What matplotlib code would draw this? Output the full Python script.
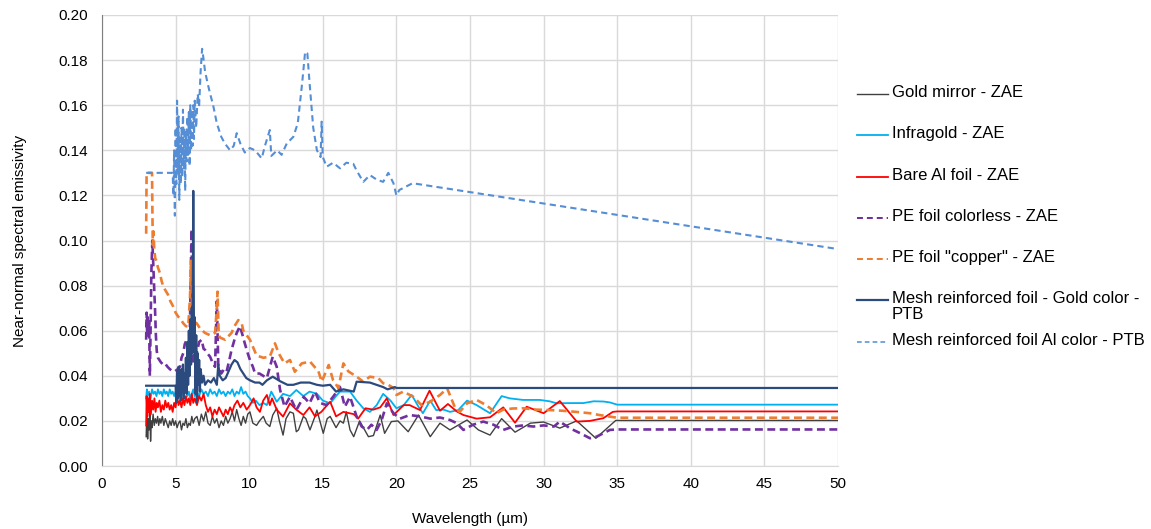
import matplotlib
matplotlib.use("Agg")
import matplotlib.pyplot as plt
from matplotlib.lines import Line2D

plt.rcParams['font.family'] = ['Liberation Sans', 'DejaVu Sans']

# ---- data ----
gold_x = [3.00, 3.05, 3.10, 3.15, 3.20, 3.25, 3.30, 3.35, 3.40, 3.47,
          3.55, 3.62, 3.70, 3.78, 3.85, 3.93, 4.00, 4.10, 4.20, 4.30,
          4.40, 4.50, 4.60, 4.70, 4.80, 4.90, 5.00, 5.10, 5.20, 5.30,
          5.40, 5.50, 5.60, 5.70, 5.80, 5.90, 6.00, 6.10, 6.20, 6.30,
          6.45, 6.60, 6.75, 6.90, 7.05, 7.20, 7.35, 7.50, 7.65, 7.80,
          7.95, 8.10, 8.25, 8.40, 8.55, 8.70, 8.85, 9.00, 9.15, 9.30,
          9.45, 9.60, 9.75, 9.90, 10.05, 10.25, 10.50, 10.70, 10.96, 11.15,
          11.40, 11.60, 11.87, 12.05, 12.30, 12.50, 12.77, 13.00, 13.20, 13.35,
          13.68, 13.85, 14.13, 14.47, 14.60, 15.03, 15.30, 15.50, 15.90, 16.17,
          16.40, 16.60, 16.85, 17.10, 17.50, 18.10, 18.44, 18.90, 19.20, 19.66,
          20.10, 20.80, 21.50, 22.30, 22.96, 23.64, 24.80, 25.57, 26.36, 27.15,
          28.06, 29.10, 30.00, 31.10, 32.25, 33.55, 34.90, 50.00]
gold_y = [0.013, 0.024, 0.012, 0.021, 0.016, 0.025, 0.011, 0.020, 0.017, 0.023,
          0.018, 0.021, 0.019, 0.022, 0.018, 0.021, 0.019, 0.022, 0.018, 0.021,
          0.019, 0.017, 0.020, 0.018, 0.021, 0.018, 0.020, 0.017, 0.019, 0.020,
          0.016, 0.019, 0.018, 0.021, 0.017, 0.019, 0.018, 0.022, 0.019, 0.021,
          0.022, 0.018, 0.023, 0.020, 0.024, 0.019, 0.018, 0.022, 0.019, 0.021,
          0.017, 0.020, 0.018, 0.022, 0.019, 0.021, 0.024, 0.020, 0.025, 0.021,
          0.018, 0.022, 0.019, 0.023, 0.024, 0.019, 0.018, 0.020, 0.022, 0.019,
          0.0175, 0.0226, 0.0256, 0.020, 0.0137, 0.021, 0.024, 0.0234, 0.0152, 0.016,
          0.022, 0.021, 0.016, 0.022, 0.0248, 0.0145, 0.021, 0.022, 0.017, 0.020,
          0.019, 0.024, 0.016, 0.013, 0.020, 0.013, 0.0135, 0.0226, 0.0145, 0.0197,
          0.020, 0.0152, 0.0226, 0.013, 0.019, 0.016, 0.0204, 0.016, 0.0137, 0.021,
          0.015, 0.019, 0.0195, 0.0168, 0.020, 0.0123, 0.0202, 0.0202]

infra_x = [3.00, 3.05, 3.10, 3.20, 3.30, 3.40, 3.50, 3.60, 3.70, 3.80,
           3.90, 4.00, 4.10, 4.20, 4.30, 4.40, 4.50, 4.60, 4.70, 4.80,
           4.90, 5.00, 5.10, 5.20, 5.30, 5.40, 5.50, 5.60, 5.70, 5.80,
           5.90, 6.00, 6.10, 6.20, 6.30, 6.45, 6.60, 6.75, 6.90, 7.05,
           7.20, 7.35, 7.50, 7.65, 7.80, 7.95, 8.10, 8.25, 8.40, 8.55,
           8.70, 8.85, 9.00, 9.15, 9.30, 9.45, 9.60, 9.75, 9.90, 10.05,
           10.25, 10.45, 10.70, 10.95, 11.20, 11.50, 11.87, 12.30, 12.77, 13.20,
           13.68, 14.10, 14.60, 15.00, 15.50, 15.90, 16.17, 16.85, 17.30, 17.75,
           18.20, 18.66, 19.10, 19.60, 20.00, 20.50, 21.04, 21.50, 21.80, 22.30,
           22.70, 23.20, 23.64, 24.20, 24.80, 25.45, 26.36, 27.15, 27.70, 28.60,
           29.75, 30.40, 30.90, 31.80, 32.70, 33.40, 34.06, 34.50, 35.00, 50.00]
infra_y = [0.030, 0.034, 0.031, 0.033, 0.030, 0.034, 0.032, 0.033, 0.031, 0.034,
           0.032, 0.033, 0.031, 0.034, 0.032, 0.033, 0.031, 0.034, 0.032, 0.033,
           0.031, 0.033, 0.030, 0.032, 0.034, 0.031, 0.033, 0.032, 0.034, 0.031,
           0.033, 0.030, 0.032, 0.034, 0.031, 0.033, 0.031, 0.034, 0.032, 0.033,
           0.031, 0.034, 0.032, 0.033, 0.031, 0.034, 0.032, 0.033, 0.031, 0.033,
           0.032, 0.034, 0.031, 0.033, 0.032, 0.035, 0.032, 0.033, 0.031, 0.030,
           0.028, 0.029, 0.027, 0.028, 0.027, 0.033, 0.0285, 0.032, 0.031, 0.0337,
           0.031, 0.033, 0.032, 0.029, 0.0278, 0.031, 0.033, 0.033, 0.029, 0.0256,
           0.024, 0.027, 0.032, 0.029, 0.0256, 0.027, 0.0315, 0.0263, 0.0234, 0.029,
           0.0248, 0.025, 0.024, 0.0248, 0.029, 0.027, 0.0234, 0.031, 0.030, 0.0293,
           0.0293, 0.0287, 0.0278, 0.0279, 0.0279, 0.0287, 0.0286, 0.0282, 0.0272, 0.0272]

al_x = [3.00, 3.03, 3.08, 3.13, 3.18, 3.25, 3.32, 3.40, 3.48, 3.56,
        3.64, 3.72, 3.80, 3.90, 4.00, 4.10, 4.20, 4.30, 4.40, 4.50,
        4.60, 4.70, 4.80, 4.90, 5.00, 5.10, 5.20, 5.30, 5.40, 5.50,
        5.60, 5.70, 5.80, 5.90, 6.00, 6.10, 6.20, 6.30, 6.45, 6.60,
        6.75, 6.90, 7.05, 7.20, 7.35, 7.50, 7.65, 7.80, 7.95, 8.10,
        8.25, 8.40, 8.55, 8.70, 8.85, 9.00, 9.20, 9.40, 9.60, 9.83,
        10.05, 10.30, 10.50, 10.73, 10.95, 11.20, 11.40, 11.55, 11.87, 12.30,
        12.77, 13.20, 13.68, 14.10, 14.47, 14.90, 15.50, 15.90, 16.40, 17.10,
        17.40, 17.90, 18.44, 18.90, 19.35, 19.80, 20.50, 20.90, 21.60, 22.25,
        22.96, 23.50, 24.10, 24.55, 25.45, 26.36, 27.26, 28.06, 28.85, 30.00,
        31.10, 32.25, 33.15, 34.06, 34.70, 35.00, 50.00]
al_y = [0.018, 0.031, 0.022, 0.030, 0.024, 0.032, 0.023, 0.029, 0.025, 0.030,
        0.024, 0.028, 0.026, 0.029, 0.024, 0.027, 0.025, 0.029, 0.026, 0.028,
        0.025, 0.027, 0.024, 0.028, 0.026, 0.031, 0.027, 0.029, 0.026, 0.030,
        0.027, 0.031, 0.028, 0.030, 0.027, 0.032, 0.028, 0.030, 0.027, 0.031,
        0.029, 0.032, 0.027, 0.024, 0.026, 0.022, 0.025, 0.023, 0.026, 0.024,
        0.022, 0.025, 0.023, 0.026, 0.024, 0.027, 0.029, 0.026, 0.028, 0.025,
        0.027, 0.030, 0.026, 0.024, 0.029, 0.0315, 0.027, 0.030, 0.025, 0.0219,
        0.0278, 0.025, 0.0226, 0.026, 0.022, 0.024, 0.0285, 0.022, 0.024, 0.023,
        0.021, 0.0256, 0.025, 0.026, 0.030, 0.0226, 0.027, 0.027, 0.0248, 0.0334,
        0.0245, 0.0275, 0.0242, 0.0226, 0.021, 0.0216, 0.026, 0.0192, 0.0263, 0.0234,
        0.0288, 0.0197, 0.020, 0.0212, 0.024, 0.0242, 0.0242]

pe_clear_x = [3.00, 3.03, 3.07, 3.10, 3.15, 3.20, 3.25, 3.30, 3.35, 3.42,
              3.48, 3.55, 3.60, 3.66, 3.72, 3.80, 3.90, 4.00, 4.15, 4.28,
              4.45, 4.60, 4.80, 4.96, 5.15, 5.30, 5.40, 5.52, 5.62, 5.75,
              5.85, 5.95, 6.02, 6.08, 6.14, 6.20, 6.30, 6.43, 6.60, 6.77,
              6.90, 7.00, 7.15, 7.34, 7.50, 7.68, 7.80, 7.90, 8.10, 8.30,
              8.47, 8.65, 8.80, 9.00, 9.15, 9.37, 9.55, 9.70, 9.90, 10.05,
              10.25, 10.40, 10.70, 11.20, 11.60, 11.87, 12.10, 12.40, 12.77, 13.20,
              13.70, 14.10, 14.47, 14.80, 15.26, 15.70, 16.17, 16.50, 16.85, 17.30,
              17.64, 18.00, 18.30, 18.66, 19.00, 19.35, 19.80, 20.25, 20.90, 21.60,
              22.30, 22.96, 23.64, 24.10, 24.55, 25.20, 25.90, 26.60, 27.26, 27.95,
              28.60, 29.30, 30.00, 30.70, 31.10, 31.80, 32.50, 33.15, 33.60, 34.50,
              35.00, 50.00]
pe_clear_y = [0.056, 0.068, 0.058, 0.066, 0.060, 0.064, 0.040, 0.060, 0.085, 0.100,
              0.090, 0.078, 0.070, 0.058, 0.051, 0.048, 0.047, 0.046, 0.045, 0.0455,
              0.044, 0.043, 0.042, 0.042, 0.043, 0.044, 0.048, 0.050, 0.054, 0.056,
              0.050, 0.053, 0.080, 0.105, 0.070, 0.045, 0.052, 0.050, 0.055, 0.056,
              0.052, 0.0515, 0.050, 0.0485, 0.046, 0.044, 0.073, 0.045, 0.041, 0.043,
              0.042, 0.047, 0.0515, 0.056, 0.059, 0.062, 0.058, 0.0544, 0.050, 0.047,
              0.044, 0.041, 0.041, 0.039, 0.0485, 0.044, 0.0337, 0.0263, 0.0307, 0.0248,
              0.0307, 0.0278, 0.033, 0.028, 0.027, 0.0307, 0.035, 0.0263, 0.0307, 0.0219,
              0.0175, 0.016, 0.0183, 0.016, 0.0204, 0.0278, 0.0234, 0.021, 0.0226, 0.022,
              0.021, 0.0215, 0.0204, 0.019, 0.016, 0.0183, 0.0197, 0.0183, 0.016, 0.0175,
              0.018, 0.0175, 0.018, 0.0175, 0.0197, 0.0167, 0.0145, 0.0123, 0.013, 0.016,
              0.0162, 0.0162]

pe_copper_x = [3.00, 3.03, 3.40, 3.42, 3.45, 3.50, 3.55, 3.62, 3.70, 3.80,
               3.94, 4.05, 4.17, 4.30, 4.50, 4.65, 4.84, 5.00, 5.18, 5.35,
               5.52, 5.70, 5.86, 5.98, 6.05, 6.12, 6.25, 6.43, 6.66, 7.00,
               7.34, 7.68, 7.80, 7.85, 7.92, 8.00, 8.36, 8.80, 9.00, 9.26,
               9.50, 9.60, 10.05, 10.50, 10.96, 11.40, 11.75, 12.00, 12.40, 12.77,
               13.10, 13.57, 14.13, 14.70, 14.93, 15.40, 15.70, 16.06, 16.40, 16.73,
               17.30, 17.75, 18.20, 18.77, 19.10, 19.45, 19.80, 20.00, 20.47, 21.15,
               21.70, 22.30, 22.96, 23.45, 24.00, 24.30, 24.80, 25.45, 26.10, 26.80,
               27.26, 27.90, 28.60, 29.50, 30.40, 31.30, 32.20, 33.15, 33.80, 34.50,
               35.00, 50.00]
pe_copper_y = [0.103, 0.130, 0.130, 0.115, 0.098, 0.104, 0.096, 0.092, 0.091, 0.088,
               0.0855, 0.082, 0.0795, 0.078, 0.0758, 0.073, 0.0707, 0.068, 0.0662, 0.065,
               0.0633, 0.062, 0.0618, 0.075, 0.091, 0.070, 0.064, 0.0633, 0.061, 0.059,
               0.058, 0.059, 0.070, 0.0773, 0.060, 0.057, 0.056, 0.059, 0.062, 0.0647,
               0.063, 0.060, 0.056, 0.049, 0.048, 0.0485, 0.0544, 0.050, 0.0455, 0.047,
               0.0418, 0.0455, 0.0463, 0.042, 0.0374, 0.0448, 0.038, 0.0346, 0.0455, 0.042,
               0.0396, 0.0374, 0.0396, 0.039, 0.0367, 0.036, 0.0346, 0.0315, 0.033, 0.0307,
               0.027, 0.0285, 0.0315, 0.0344, 0.0256, 0.024, 0.0278, 0.0293, 0.027, 0.0234,
               0.025, 0.0255, 0.0256, 0.025, 0.0248, 0.0245, 0.024, 0.0234, 0.0226, 0.0219,
               0.0214, 0.0214]

mesh_gold_x = [3.00, 5.00, 5.05, 5.10, 5.15, 5.20, 5.25, 5.30, 5.35, 5.40,
               5.45, 5.50, 5.55, 5.60, 5.65, 5.70, 5.75, 5.80, 5.85, 5.90,
               5.95, 6.00, 6.05, 6.10, 6.15, 6.20, 6.25, 6.30, 6.35, 6.40,
               6.45, 6.50, 6.55, 6.60, 6.65, 6.70, 6.80, 6.90, 7.00, 7.20,
               7.40, 7.60, 7.80, 7.90, 8.00, 8.20, 8.40, 8.60, 8.80, 9.00,
               9.20, 9.40, 9.60, 9.80, 10.05, 10.40, 10.70, 10.90, 11.20, 11.60,
               12.10, 12.60, 13.00, 13.50, 14.10, 14.60, 15.00, 15.50, 15.90, 16.40,
               17.10, 17.30, 18.20, 19.10, 19.40, 19.90, 20.00, 50.00]
mesh_gold_y = [0.0356, 0.0356, 0.028, 0.042, 0.030, 0.044, 0.031, 0.040, 0.029, 0.043,
               0.033, 0.045, 0.030, 0.041, 0.034, 0.048, 0.032, 0.055, 0.036, 0.060,
               0.040, 0.065, 0.045, 0.070, 0.050, 0.122, 0.055, 0.066, 0.032, 0.058,
               0.028, 0.050, 0.036, 0.047, 0.033, 0.043, 0.037, 0.040, 0.036, 0.038,
               0.037, 0.039, 0.036, 0.045, 0.040, 0.038, 0.039, 0.042, 0.045, 0.047,
               0.046, 0.043, 0.041, 0.039, 0.038, 0.037, 0.037, 0.036, 0.038, 0.0396,
               0.0376, 0.036, 0.036, 0.037, 0.037, 0.036, 0.0356, 0.036, 0.033, 0.034,
               0.033, 0.0374, 0.037, 0.035, 0.034, 0.035, 0.0346, 0.0346]

mesh_al_x = [3.00, 4.80, 4.85, 4.90, 4.95, 5.00, 5.05, 5.10, 5.15, 5.20,
             5.25, 5.30, 5.35, 5.40, 5.45, 5.50, 5.55, 5.60, 5.65, 5.70,
             5.75, 5.80, 5.85, 5.90, 5.95, 6.00, 6.05, 6.10, 6.15, 6.20,
             6.25, 6.30, 6.40, 6.50, 6.60, 6.70, 6.80, 6.85, 7.00, 7.20,
             7.35, 7.55, 7.80, 8.10, 8.35, 8.70, 8.95, 9.15, 9.40, 9.70,
             10.05, 10.40, 10.85, 11.07, 11.40, 11.50, 11.90, 12.20, 12.55, 13.00,
             13.30, 13.60, 13.80, 13.95, 14.10, 14.35, 14.60, 14.85, 14.92, 15.00,
             15.26, 15.70, 16.17, 16.60, 17.07, 17.30, 17.75, 18.20, 18.66, 19.10,
             19.45, 19.80, 20.00, 20.20, 21.10, 50.00]
mesh_al_y = [0.130, 0.130, 0.120, 0.140, 0.111, 0.150, 0.125, 0.162, 0.130, 0.155,
             0.118, 0.145, 0.125, 0.150, 0.128, 0.158, 0.132, 0.150, 0.122, 0.148,
             0.135, 0.155, 0.138, 0.157, 0.133, 0.160, 0.140, 0.158, 0.142, 0.160,
             0.145, 0.162, 0.150, 0.165, 0.160, 0.175, 0.185, 0.183, 0.175, 0.169,
             0.165, 0.160, 0.152, 0.146, 0.143, 0.140, 0.142, 0.1476, 0.143, 0.139,
             0.141, 0.140, 0.1364, 0.142, 0.149, 0.1375, 0.140, 0.138, 0.143, 0.146,
             0.152, 0.170, 0.1837, 0.183, 0.170, 0.150, 0.140, 0.137, 0.1527, 0.137,
             0.1327, 0.1345, 0.132, 0.1345, 0.134, 0.131, 0.126, 0.129, 0.127, 0.126,
             0.130, 0.1254, 0.120, 0.1224, 0.1254, 0.0962]

labels = ['Gold mirror - ZAE', 'Infragold - ZAE', 'Bare Al foil - ZAE',
          'PE foil colorless - ZAE', 'PE foil "copper" - ZAE',
          'Mesh reinforced foil - Gold color -\nPTB',
          'Mesh reinforced foil Al color - PTB']
xs = [gold_x, infra_x, al_x, pe_clear_x, pe_copper_x, mesh_gold_x, mesh_al_x]
ys = [gold_y, infra_y, al_y, pe_clear_y, pe_copper_y, mesh_gold_y, mesh_al_y]
colors = ['#404040', '#00B0F0', '#FF0000', '#7030A0', '#ED7D31', '#2B4A7E', '#558ED5']
widths = [1.0, 1.3, 1.3, 1.9, 1.9, 1.6, 1.5]
dashes = [None, None, None, (3.0, 1.7), (3.0, 1.7), None, (3.0, 2.0)]

fig = plt.figure(figsize=(11.51, 5.29), dpi=100)
ax = fig.add_axes([102 / 1151, 63 / 529, 736 / 1151, 451 / 529])

for i in range(len(xs)):
    kw = dict(color=colors[i], lw=widths[i])
    if dashes[i] is not None:
        kw['dashes'] = dashes[i]
    ax.plot(xs[i], ys[i], **kw)

ax.set_xlim(0, 50)
ax.set_ylim(0, 0.20)
ax.set_xticks(range(0, 51, 5))
ax.set_yticks([i * 0.02 for i in range(11)])
ax.set_yticklabels(['%.2f' % (i * 0.02) for i in range(11)])
ax.grid(True, color='#D9D9D9', lw=1)
ax.set_axisbelow(True)
for s in ['top', 'right']:
    ax.spines[s].set_visible(False)
ax.spines['left'].set_color('#7F7F7F')
ax.spines['bottom'].set_color('#D9D9D9')
ax.tick_params(length=0, labelsize=11, colors='#000000')
ax.tick_params(axis='y', pad=10)
ax.tick_params(axis='x', pad=8)
ax.set_xlabel('Wavelength (µm)', fontsize=11, labelpad=15)
ax.set_ylabel('Near-normal spectral emissivity', fontsize=11, labelpad=23)

# legend drawn by hand, Excel style
leg_y = [94, 135, 177, 218, 259, 300, 342]
for i in range(len(labels)):
    yf = 1 - leg_y[i] / 529
    ln = Line2D([857 / 1151, 888 / 1151], [yf, yf], color=colors[i],
                lw=widths[i] if dashes[i] is None else widths[i] * 0.75,
                transform=fig.transFigure)
    if dashes[i] is not None:
        ln.set_dashes((3, 2))
    fig.lines.append(ln)
    fig.text(892 / 1151, 1 - (leg_y[i] - 9) / 529, labels[i], fontsize=12,
             va='top', ha='left', linespacing=1.05)

fig.savefig('out.png', dpi=100)
